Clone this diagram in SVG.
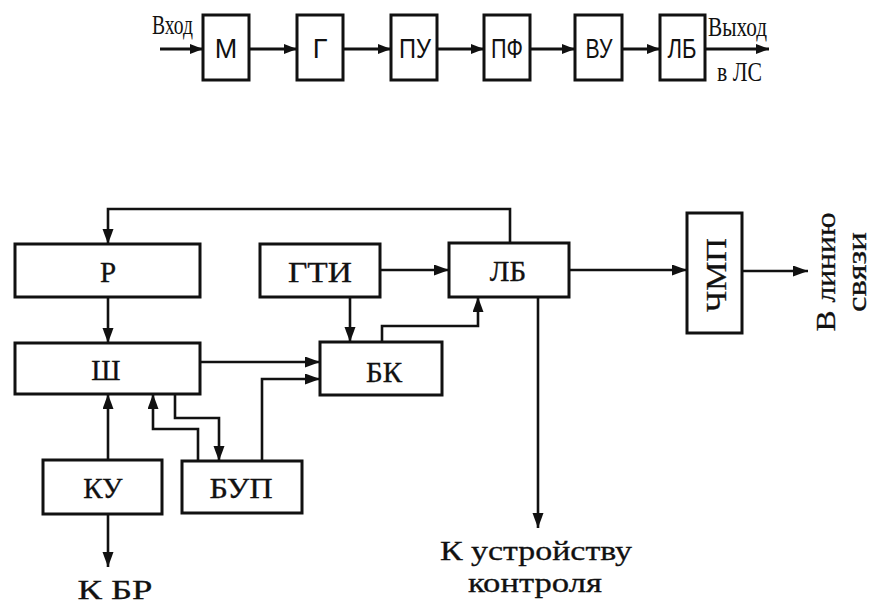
<svg xmlns="http://www.w3.org/2000/svg" width="874" height="608" viewBox="0 0 874 608">
<defs>
<marker id="ah" markerUnits="userSpaceOnUse" markerWidth="16" markerHeight="12" refX="15" refY="5.5" orient="auto">
<path d="M0,0 L15,5.5 L0,11 z" fill="#111"/>
</marker>
<marker id="ahs" markerUnits="userSpaceOnUse" markerWidth="14" markerHeight="12" refX="13" refY="5" orient="auto">
<path d="M0,0 L13,5 L0,10 z" fill="#111"/>
</marker>
<style>
.box{fill:#fff;stroke:#111;stroke-width:3}
.ln{fill:none;stroke:#111;stroke-width:2.6;marker-end:url(#ah)}
.lt{fill:none;stroke:#111;stroke-width:3;marker-end:url(#ahs)}
.tn{font-family:"Liberation Sans Narrow","Liberation Sans",Arial,sans-serif;font-size:27px;fill:#111;text-anchor:middle}
.ts{font-family:"Liberation Serif","Times New Roman",serif;font-size:27px;fill:#111}
.tb{font-family:"Liberation Serif","Times New Roman",serif;font-size:29px;fill:#111;stroke:#111;stroke-width:0.3;text-anchor:middle}
.to{font-family:"Liberation Serif","Times New Roman",serif;font-size:28px;fill:#111;stroke:#111;stroke-width:0.3;text-anchor:middle}
</style>
</defs>

<!-- Top chain -->
<g id="top-connectors">
<path class="lt" d="M160,49 H203"/>
<path class="lt" d="M249,49 H297"/>
<path class="lt" d="M343,49 H391"/>
<path class="lt" d="M437,49 H484"/>
<path class="lt" d="M530,49 H575"/>
<path class="lt" d="M622,49 H660"/>
<path class="lt" d="M705,49 H769"/>
</g>
<g id="t-in"><text class="ts" x="152" y="34" textLength="41" lengthAdjust="spacingAndGlyphs">Вход</text></g>
<g id="t-M"><rect class="box" x="203" y="15" width="46" height="65"/><text class="tn" x="226" y="58">М</text></g>
<g id="t-G"><rect class="box" x="297" y="15" width="46" height="65"/><text class="tn" x="320" y="58">Г</text></g>
<g id="t-PU"><rect class="box" x="391" y="15" width="46" height="65"/><text class="tn" x="415" y="58" textLength="32" lengthAdjust="spacingAndGlyphs">ПУ</text></g>
<g id="t-PF"><rect class="box" x="484" y="15" width="46" height="65"/><text class="tn" x="507" y="58" textLength="32" lengthAdjust="spacingAndGlyphs">ПФ</text></g>
<g id="t-VU"><rect class="box" x="575" y="15" width="47" height="65"/><text class="tn" x="599" y="58" textLength="27" lengthAdjust="spacingAndGlyphs">ВУ</text></g>
<g id="t-LB"><rect class="box" x="660" y="15" width="45" height="65"/><text class="tn" x="682" y="58" textLength="29" lengthAdjust="spacingAndGlyphs">ЛБ</text></g>
<g id="t-out">
<text class="ts" x="708" y="36" textLength="59" lengthAdjust="spacingAndGlyphs">Выход</text>
<text class="ts" x="717" y="81" textLength="45" lengthAdjust="spacingAndGlyphs">в ЛС</text>
</g>

<!-- Bottom diagram connectors -->
<g id="connectors">
<path class="ln" d="M510,243 V209 H108 V244"/>
<path class="ln" d="M108,297 V343"/>
<path class="ln" d="M380,270 H449"/>
<path class="ln" d="M350,297 V342"/>
<path class="ln" d="M200,362 H320"/>
<path class="ln" d="M262,461 V379 H320"/>
<path class="ln" d="M382,342 V326 H478 V297"/>
<path class="ln" d="M569,270 H687"/>
<path class="ln" d="M742,271 H808"/>
<path class="ln" d="M538,297 V528"/>
<path class="ln" d="M108,460 V394"/>
<path class="ln" d="M108,514 V567"/>
<path class="ln" d="M198,461 V429 H153 V394"/>
<path class="ln" d="M175,394 V418 H219 V461"/>
</g>

<g id="R"><rect class="box" x="15" y="244" width="185" height="53"/><text class="tb" x="108" y="282">Р</text></g>
<g id="Sh"><rect class="box" x="15" y="343" width="185" height="51"/><text class="tb" x="106" y="380">Ш</text></g>
<g id="GTI"><rect class="box" x="260" y="244" width="120" height="53"/><text class="tb" x="320" y="282" textLength="64" lengthAdjust="spacingAndGlyphs">ГТИ</text></g>
<g id="LB"><rect class="box" x="449" y="243" width="120" height="54"/><text class="tb" x="508" y="281">ЛБ</text></g>
<g id="BK"><rect class="box" x="320" y="342" width="122" height="53"/><text class="tb" x="384" y="382">БК</text></g>
<g id="KU"><rect class="box" x="43" y="460" width="119" height="54"/><text class="tb" x="103" y="498">КУ</text></g>
<g id="BUP"><rect class="box" x="182" y="461" width="120" height="52"/><text class="tb" x="241" y="498" textLength="63" lengthAdjust="spacingAndGlyphs">БУП</text></g>
<g id="ChMP"><rect class="box" x="687" y="213" width="55" height="120"/><text class="tb" transform="translate(726,275) rotate(-90)" x="0" y="0" textLength="74" lengthAdjust="spacingAndGlyphs">ЧМП</text></g>

<g id="labels">
<text class="to" x="115" y="599" textLength="75" lengthAdjust="spacingAndGlyphs">К БР</text>
<text class="to" x="536" y="560" textLength="192" lengthAdjust="spacingAndGlyphs">К устройству</text>
<text class="to" x="535" y="592" textLength="134" lengthAdjust="spacingAndGlyphs">контроля</text>
<text class="to" transform="translate(835,272) rotate(-90)" x="0" y="0" textLength="119" lengthAdjust="spacingAndGlyphs">В линию</text>
<text class="to" transform="translate(866,272) rotate(-90)" x="0" y="0" textLength="80" lengthAdjust="spacingAndGlyphs">связи</text>
</g>
</svg>
